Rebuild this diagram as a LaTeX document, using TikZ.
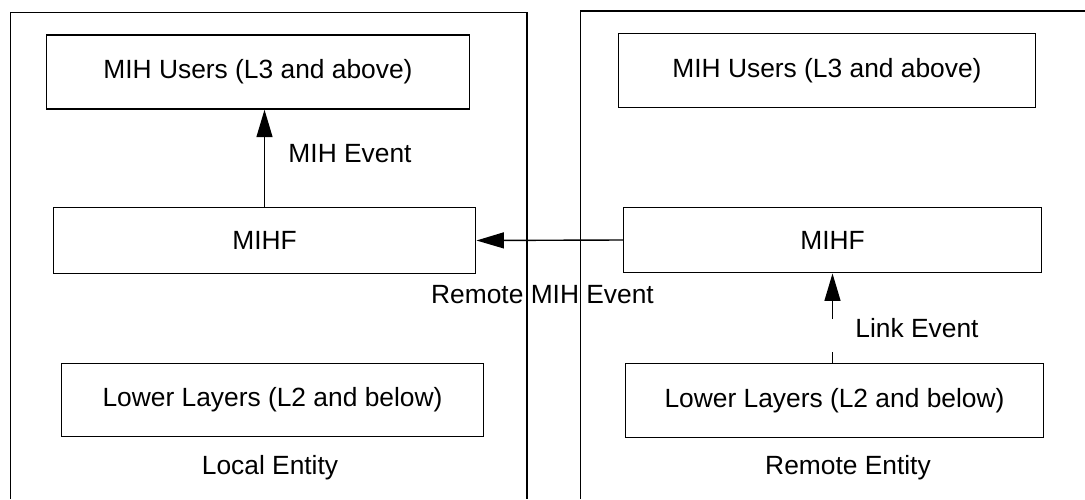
\documentclass[tikz,border=0pt]{standalone}
\usepackage{fontspec}
\setmainfont{Liberation Sans}
\usepackage{tikz}
\usetikzlibrary{arrows.meta}

\tikzset{
  layer/.style={draw, line width=0.8pt, inner sep=0pt, font=\fontsize{15}{18}\selectfont},
  lbl/.style={font=\fontsize{15}{18}\selectfont, inner sep=0pt},
  evt/.style={line width=0.8pt, -{Triangle[length=0.55cm, width=0.32cm]}}
}

\begin{document}
\begin{tikzpicture}
            \useasboundingbox (0.0, 0.0) rectangle (21.7, 9.98);

            % entity frames
            \draw[line width=0.8pt] (0.21, 0.0) |- (10.54, 9.73) -- (10.54, 0.0);
            \draw[line width=0.8pt] (11.61, 0.0) |- (21.8, 9.76);

            % local entity
            \node[layer, minimum width=8.46cm, minimum height=1.48cm] (usersL) at (5.16, 8.54) {MIH Users (L3 and above)};
            \node[layer, minimum width=8.45cm, minimum height=1.31cm] (mihfL) at (5.29, 5.17) {MIHF};
            \node[layer, minimum width=8.45cm, minimum height=1.47cm] (lowerL) at (5.45, 1.98) {Lower Layers (L2 and below)};
            \node[lbl] (localEnt) at (5.4, 0.63) {Local Entity};

            % remote entity
            \node[layer, minimum width=8.35cm, minimum height=1.47cm] (usersR) at (16.54, 8.57) {MIH Users (L3 and above)};
            \node[layer, minimum width=8.36cm, minimum height=1.31cm] (mihfR) at (16.65, 5.18) {MIHF};
            \node[layer, minimum width=8.35cm, minimum height=1.47cm] (lowerR) at (16.69, 1.97) {Lower Layers (L2 and below)};
            \node[lbl] (remoteEnt) at (16.96, 0.63) {Remote Entity};

            % events
            \draw[evt] (mihfL.north) -- (mihfL.north |- usersL.south); % MIH event
            \node[lbl] (mihEvt) at (7.0, 6.9) {MIH Event};
            \draw[evt] (mihfR.west) -- (mihfL.east); % remote MIH event
            \node[lbl] (remoteEvt) at (10.85, 4.08) {Remote MIH Event};
            \draw[evt, dash pattern=on 0.22cm off 0.66cm on 2cm] (mihfR.south |- lowerR.north) -- (mihfR.south); % link event
            \node[lbl] (linkEvt) at (18.34, 3.41) {Link Event};
        \end{tikzpicture}
\end{document}
